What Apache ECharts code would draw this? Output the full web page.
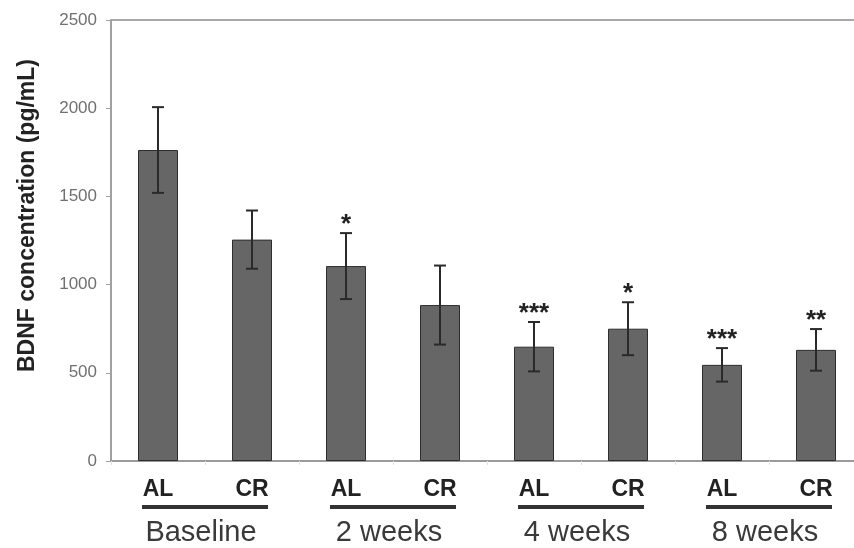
<!DOCTYPE html>
<html>
<head>
<meta charset="utf-8">
<script src="https://cdn.jsdelivr.net/npm/echarts@6/dist/echarts.min.js"></script>
<style>html,body{margin:0;padding:0;background:#fff}#c{width:854px;height:548px}</style>
</head>
<body>
<div id="c"></div>
<script>
const categories = ['AL', 'CR', 'AL', 'CR', 'AL', 'CR', 'AL', 'CR'];
const groups = ['Baseline', '2 weeks', '4 weeks', '8 weeks'];
const means = [1763, 1255, 1105, 884, 648, 750, 545, 630];
const errors = [243, 165, 187, 224, 140, 150, 95, 118];
const marks = ['', '', '*', '', '***', '*', '***', '**'];
const yTicks = [0, 500, 1000, 1500, 2000, 2500];

const chart = echarts.init(document.getElementById('c'));
const FONT = '"Liberation Sans", Arial, sans-serif';

chart.setOption({
  animation: false,
  backgroundColor: '#fff',
  grid: { left: 111, right: -9, top: 20, bottom: 87, outerBoundsMode: 'none', containLabel: false },
  xAxis: [
    {
      type: 'category',
      data: categories,
      position: 'bottom',
      axisLine: { lineStyle: { color: '#9a9a9a', width: 2 } },
      axisTick: { show: true, length: 4, lineStyle: { color: '#e2e2e2' } },
      axisLabel: { margin: 17, fontFamily: FONT, fontSize: 23, fontWeight: 'bold', color: '#222' }
    },
    {
      type: 'category',
      data: groups,
      position: 'bottom',
      axisLine: { show: false },
      axisTick: { show: false },
      axisLabel: {
        margin: 44,
        formatter: v => '{u| }\n{g|' + v + '}',
        rich: {
          u: { width: 126, height: 4, lineHeight: 4, backgroundColor: '#333', fontSize: 1 },
          g: { fontFamily: FONT, fontSize: 29, lineHeight: 48, color: '#3a3a3a', padding: [0, 8, 0, 0] }
        }
      }
    }
  ],
  yAxis: {
    type: 'value',
    min: 0,
    max: 2500,
    interval: 500,
    name: 'BDNF concentration (pg/mL)',
    nameLocation: 'middle',
    nameGap: 72,
    nameTextStyle: { fontFamily: FONT, fontSize: 23, fontWeight: 'bold', color: '#222', padding: [0, 0, 0, 50] },
    axisLine: { show: true, lineStyle: { color: '#a0a0a0', width: 2 } },
    axisTick: { show: true, length: 5, lineStyle: { color: '#a0a0a0' } },
    axisLabel: {
      margin: 14, fontFamily: FONT, fontSize: 17, color: '#707070',
      formatter: v => yTicks.indexOf(v) >= 0 ? String(v) : ''
    },
    splitLine: {
      show: true,
      lineStyle: { width: 2, color: ['rgba(0,0,0,0)', 'rgba(0,0,0,0)', 'rgba(0,0,0,0)', 'rgba(0,0,0,0)', 'rgba(0,0,0,0)', '#a8a8a8'] }
    }
  },
  series: [
    {
      type: 'bar',
      data: means,
      barWidth: 40,
      itemStyle: { color: '#666666', borderColor: '#2e2e2e', borderWidth: 1 },
      z: 2
    },
    {
      type: 'custom',
      data: means.map((m, i) => [i, m, errors[i]]),
      z: 5,
      renderItem: function (params, api) {
        const i = api.value(0), m = api.value(1), e = api.value(2);
        const top = api.coord([i, m + e]);
        const bot = api.coord([i, m - e]);
        const cw = 6;
        const style = { stroke: '#2a2a2a', lineWidth: 2 };
        const children = [
          { type: 'line', shape: { x1: top[0], y1: top[1], x2: bot[0], y2: bot[1] }, style: style },
          { type: 'line', shape: { x1: top[0] - cw, y1: top[1], x2: top[0] + cw, y2: top[1] }, style: style },
          { type: 'line', shape: { x1: bot[0] - cw, y1: bot[1], x2: bot[0] + cw, y2: bot[1] }, style: style }
        ];
        const mk = marks[i];
        if (mk) {
          children.push({
            type: 'text',
            style: {
              text: mk, x: top[0], y: top[1] - 8,
              align: 'center', verticalAlign: 'middle',
              font: 'bold 26px ' + FONT, fill: '#222'
            }
          });
        }
        return { type: 'group', children: children };
      }
    }
  ]
});
</script>
</body>
</html>
